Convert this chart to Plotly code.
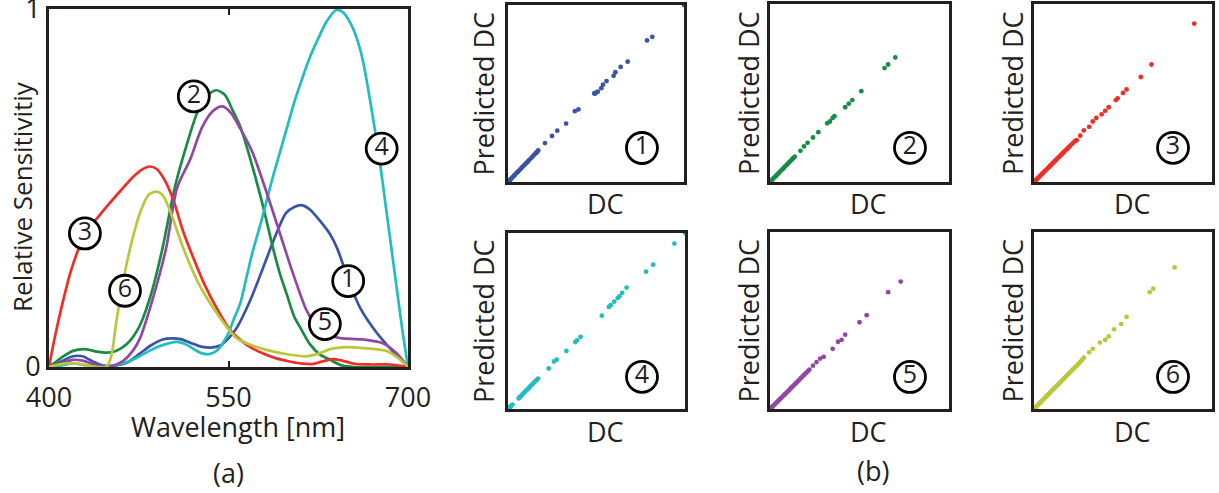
import plotly.graph_objects as go

W, H = 1219, 493
FONT = "Open Sans"
INK = "#231F20"

# ---------------- panel (a) data: relative sensitivity curves ----------------
wl_1 = [400, 410, 420, 428, 437, 445, 455, 465, 475, 485, 495, 503, 510, 518, 527, 535, 543, 550, 557,
        568, 579, 590, 598, 605, 611, 618, 626, 635, 641, 650, 660, 674, 687, 700]
s_1 = [0, 0.015, 0.03, 0.03, 0.015, 0.004, 0.004, 0.012, 0.035, 0.06, 0.077, 0.08, 0.078, 0.068, 0.057,
       0.054, 0.06, 0.08, 0.11, 0.185, 0.278, 0.373, 0.43, 0.447, 0.452, 0.44, 0.41, 0.37, 0.33, 0.245,
       0.165, 0.095, 0.045, 0]

wl_2 = [400, 410, 420, 430, 440, 448, 456, 465, 475, 485, 495, 505, 515, 525, 533, 540, 547, 553, 560,
        570, 579, 587, 593, 599, 605, 610, 618, 626, 635, 645, 655, 670, 685, 700]
s_2 = [0, 0.025, 0.045, 0.05, 0.043, 0.04, 0.045, 0.064, 0.11, 0.2, 0.334, 0.5, 0.62, 0.72, 0.76, 0.773,
       0.76, 0.72, 0.67, 0.56, 0.447, 0.335, 0.26, 0.2, 0.14, 0.11, 0.064, 0.036, 0.02, 0.004, 0, 0, 0, 0]

wl_3 = [400, 405, 410, 418, 426, 434, 442, 450, 460, 470, 478, 484, 490, 497, 504, 512, 520, 530, 540,
        551, 560, 570, 580, 590, 600, 610, 620, 628, 637, 645, 655, 670, 685, 700]
s_3 = [0, 0.085, 0.16, 0.265, 0.34, 0.39, 0.423, 0.455, 0.493, 0.53, 0.552, 0.56, 0.553, 0.52, 0.466, 0.38,
       0.31, 0.23, 0.165, 0.105, 0.075, 0.052, 0.036, 0.024, 0.016, 0.01, 0.008, 0.015, 0.022, 0.018,
       0.009, 0.007, 0.007, 0]

wl_4 = [400, 410, 420, 430, 440, 450, 460, 470, 480, 490, 500, 507, 515, 522, 528, 534, 540, 545, 550,
        554, 560, 565, 570, 576, 580, 587, 593, 599, 605, 611, 618, 626, 632, 640, 646, 652, 657, 662,
        666, 672, 677, 681, 685, 690, 695, 700]
s_4 = [0, 0.004, 0.01, 0.005, 0.002, 0.003, 0.008, 0.02, 0.038, 0.055, 0.066, 0.07, 0.062, 0.048, 0.038,
       0.036, 0.045, 0.065, 0.095, 0.13, 0.18, 0.25, 0.32, 0.39, 0.44, 0.53, 0.6, 0.67, 0.74, 0.8, 0.865,
       0.925, 0.965, 0.997, 0.99, 0.96, 0.92, 0.86, 0.79, 0.67, 0.56, 0.46, 0.36, 0.235, 0.11, 0]

wl_5 = [400, 410, 420, 428, 440, 448, 455, 462, 470, 476, 487, 498, 507, 518, 528, 537, 545, 552, 560,
        570, 582, 593, 604, 615, 622, 629, 637, 645, 662, 679, 690, 700]
s_5 = [0, 0.01, 0.02, 0.018, 0.005, 0.0, 0.005, 0.017, 0.045, 0.08, 0.194, 0.334, 0.5, 0.58, 0.67, 0.715,
       0.728, 0.71, 0.665, 0.6, 0.486, 0.373, 0.26, 0.16, 0.12, 0.095, 0.085, 0.08, 0.077, 0.066, 0.04, 0]

wl_6 = [400, 410, 418, 430, 440, 448, 452, 456, 462, 468, 476, 483, 490, 495, 501, 512, 524, 537, 549,
        557, 570, 585, 600, 615, 626, 635, 645, 662, 682, 693, 700]
s_6 = [0, 0.008, 0.011, 0.006, 0.0, 0.0, 0.03, 0.12, 0.24, 0.334, 0.43, 0.48, 0.49, 0.48, 0.438, 0.334,
       0.24, 0.166, 0.11, 0.08, 0.06, 0.045, 0.035, 0.03, 0.038, 0.05, 0.055, 0.053, 0.045, 0.022, 0]

colors = ["#3A53A4", "#1A8B45", "#EE2F27", "#22BDBF", "#9048A0", "#BCC63A"]
curve_wl = [wl_1, wl_2, wl_3, wl_4, wl_5, wl_6]
curve_s = [s_1, s_2, s_3, s_4, s_5, s_6]

# circled label positions on panel (a) (wavelength, sensitivity)
label_digits = ["1", "2", "3", "4", "5", "6"]
label_wl = [650, 521, 430, 678, 630.5, 463.5]
label_s = [0.24, 0.756, 0.373, 0.61, 0.12, 0.213]

# ---------------- panel (b) data: DC vs predicted DC ----------------
dc_1 = [0.0, 0.005, 0.01, 0.015, 0.02, 0.028, 0.035, 0.04, 0.048, 0.055, 0.06, 0.068, 0.075, 0.082, 0.09,
        0.097, 0.105, 0.112, 0.12, 0.13, 0.14, 0.15, 0.158, 0.165, 0.172, 0.21, 0.25, 0.28, 0.33, 0.38,
        0.40, 0.49, 0.495, 0.5, 0.51, 0.53, 0.54, 0.56, 0.6, 0.61, 0.64, 0.68, 0.79, 0.82, 1.0]
pdc_1 = [0.0, 0.005, 0.01, 0.016, 0.021, 0.029, 0.036, 0.042, 0.05, 0.057, 0.062, 0.07, 0.077, 0.085, 0.093,
         0.1, 0.108, 0.115, 0.124, 0.134, 0.144, 0.155, 0.163, 0.17, 0.178, 0.22, 0.26, 0.29, 0.33, 0.40,
         0.41, 0.50, 0.50, 0.505, 0.51, 0.53, 0.55, 0.57, 0.6, 0.62, 0.65, 0.68, 0.80, 0.82, 1.0]

dc_2 = [0.0, 0.006, 0.012, 0.018, 0.025, 0.032, 0.04, 0.047, 0.055, 0.062, 0.07, 0.078, 0.085, 0.093, 0.1,
        0.108, 0.115, 0.123, 0.13, 0.138, 0.17, 0.19, 0.21, 0.24, 0.27, 0.32, 0.335, 0.35, 0.36, 0.42,
        0.44, 0.46, 0.51, 0.64, 0.66, 0.70]
pdc_2 = [0.0, 0.006, 0.013, 0.019, 0.026, 0.033, 0.041, 0.048, 0.057, 0.064, 0.072, 0.08, 0.088, 0.096,
         0.103, 0.111, 0.119, 0.127, 0.134, 0.142, 0.175, 0.2, 0.22, 0.25, 0.28, 0.33, 0.34, 0.36, 0.37,
         0.42, 0.44, 0.46, 0.51, 0.64, 0.66, 0.70]

dc_3 = [0.0, 0.006, 0.012, 0.018, 0.024, 0.03, 0.037, 0.044, 0.05, 0.057, 0.064, 0.07, 0.077, 0.084, 0.09,
        0.097, 0.104, 0.11, 0.118, 0.125, 0.132, 0.14, 0.148, 0.155, 0.163, 0.17, 0.178, 0.186, 0.194,
        0.2, 0.21, 0.22, 0.23, 0.24, 0.26, 0.28, 0.31, 0.33, 0.35, 0.38, 0.40, 0.42, 0.46, 0.47, 0.50,
        0.52, 0.60, 0.66, 0.90]
pdc_3 = [0.0, 0.006, 0.012, 0.018, 0.024, 0.03, 0.037, 0.044, 0.05, 0.057, 0.064, 0.07, 0.077, 0.084,
         0.09, 0.097, 0.104, 0.11, 0.118, 0.125, 0.132, 0.14, 0.148, 0.155, 0.163, 0.17, 0.178, 0.186,
         0.194, 0.2, 0.21, 0.22, 0.23, 0.235, 0.26, 0.29, 0.31, 0.34, 0.36, 0.38, 0.40, 0.42, 0.46, 0.47,
         0.50, 0.52, 0.59, 0.66, 0.89]

dc_4 = [0.0, 0.004, 0.008, 0.012, 0.018, 0.025, 0.06, 0.065, 0.072, 0.08, 0.088, 0.095, 0.103, 0.11,
        0.118, 0.125, 0.133, 0.14, 0.148, 0.155, 0.163, 0.17, 0.23, 0.26, 0.275, 0.33, 0.38, 0.39, 0.41,
        0.53, 0.57, 0.58, 0.6, 0.62, 0.63, 0.645, 0.67, 0.78, 0.82, 0.94, 1.0]
pdc_4 = [0.0, 0.004, 0.008, 0.012, 0.018, 0.025, 0.06, 0.066, 0.073, 0.081, 0.089, 0.097, 0.105, 0.112,
         0.12, 0.128, 0.136, 0.143, 0.151, 0.158, 0.166, 0.173, 0.23, 0.27, 0.28, 0.33, 0.38, 0.39, 0.41,
         0.53, 0.58, 0.59, 0.61, 0.63, 0.64, 0.66, 0.69, 0.78, 0.82, 0.94, 1.0]

dc_5 = [0.0, 0.006, 0.012, 0.018, 0.025, 0.032, 0.04, 0.047, 0.055, 0.062, 0.07, 0.078, 0.085, 0.093, 0.1,
        0.108, 0.115, 0.123, 0.13, 0.138, 0.146, 0.155, 0.163, 0.172, 0.18, 0.19, 0.2, 0.21, 0.22, 0.24,
        0.26, 0.28, 0.3, 0.35, 0.38, 0.40, 0.42, 0.50, 0.54, 0.66, 0.73]
pdc_5 = [0.0, 0.006, 0.012, 0.018, 0.025, 0.032, 0.04, 0.047, 0.055, 0.062, 0.07, 0.078, 0.085, 0.093, 0.1,
         0.108, 0.116, 0.124, 0.131, 0.139, 0.147, 0.156, 0.165, 0.174, 0.182, 0.192, 0.202, 0.212, 0.222,
         0.245, 0.265, 0.285, 0.295, 0.34, 0.38, 0.39, 0.42, 0.49, 0.53, 0.66, 0.72]

dc_6 = [0.0, 0.006, 0.012, 0.018, 0.024, 0.03, 0.037, 0.044, 0.05, 0.057, 0.064, 0.07, 0.077, 0.084, 0.09,
        0.097, 0.104, 0.11, 0.118, 0.125, 0.132, 0.14, 0.148, 0.155, 0.163, 0.17, 0.178, 0.186, 0.194,
        0.2, 0.21, 0.22, 0.23, 0.24, 0.25, 0.26, 0.27, 0.28, 0.31, 0.33, 0.37, 0.40, 0.42, 0.45, 0.49,
        0.52, 0.65, 0.67, 0.79]
pdc_6 = [0.0, 0.006, 0.013, 0.019, 0.025, 0.031, 0.038, 0.045, 0.052, 0.059, 0.066, 0.072, 0.079, 0.086,
         0.092, 0.1, 0.107, 0.113, 0.121, 0.128, 0.135, 0.143, 0.151, 0.158, 0.166, 0.174, 0.182, 0.19,
         0.198, 0.205, 0.215, 0.225, 0.235, 0.245, 0.255, 0.266, 0.277, 0.29, 0.32, 0.34, 0.375, 0.39,
         0.41, 0.45, 0.48, 0.52, 0.66, 0.68, 0.80]

dc_sets = [dc_1, dc_2, dc_3, dc_4, dc_5, dc_6]
pdc_sets = [pdc_1, pdc_2, pdc_3, pdc_4, pdc_5, pdc_6]
panel_label_pos = [(0.761, 0.192), (0.782, 0.192), (0.781, 0.192),
                   (0.757, 0.183), (0.782, 0.181), (0.781, 0.181)]

# ---------------- layout geometry (pixels) ----------------
def px(x):
    return x / W

def py(y):
    return 1 - y / H

panels = [  # x0, x1, ytop, ybottom
    (508, 684, 5, 182), (770, 949, 4, 182), (1034, 1212, 4, 182),
    (508, 685, 233, 409), (770, 949, 232, 409), (1034, 1212, 232, 409),
]

fig = go.Figure()

# panel (a) curves
for wl, s, c in zip(curve_wl, curve_s, colors):
    fig.add_trace(go.Scatter(x=wl, y=s, mode="lines", line=dict(color=c, width=2.7, shape="spline",
                                                                   smoothing=0.8),
                             xaxis="x", yaxis="y", showlegend=False, hoverinfo="skip"))

fig.add_trace(go.Scatter(x=label_wl, y=label_s, mode="markers+text", text=label_digits,
                         textposition="middle center",
                         textfont=dict(family=FONT, size=25, color=INK),
                         marker=dict(symbol="circle", size=31, color="white",
                                     line=dict(color="black", width=2.8)),
                         xaxis="x", yaxis="y", showlegend=False, cliponaxis=False, hoverinfo="skip"))

# panel (b) scatter
for i in range(6):
    ax = str(i + 2)
    fig.add_trace(go.Scatter(x=dc_sets[i], y=pdc_sets[i], mode="markers",
                             marker=dict(color=colors[i], size=4.8, line=dict(width=0)),
                             xaxis="x" + ax, yaxis="y" + ax, showlegend=False, hoverinfo="skip"))
    lx, ly = panel_label_pos[i]
    fig.add_trace(go.Scatter(x=[lx], y=[ly], mode="markers+text", text=[label_digits[i]],
                             textposition="middle center",
                             textfont=dict(family=FONT, size=25, color=INK),
                             marker=dict(symbol="circle", size=31, color="white",
                                         line=dict(color="black", width=2.8)),
                             xaxis="x" + ax, yaxis="y" + ax, showlegend=False, cliponaxis=False,
                             hoverinfo="skip"))

layout = dict(
    width=W, height=H, margin=dict(l=0, r=0, t=0, b=0, autoexpand=False),
    paper_bgcolor="white", plot_bgcolor="white",
    font=dict(family=FONT, size=27, color=INK),
    xaxis=dict(domain=[px(49), px(408)], range=[400, 700], tickvals=[400, 550, 700],
               ticktext=["400", "550", "700"], ticks="inside", ticklen=6, tickwidth=2,
               tickcolor=INK, showline=True, linewidth=3, linecolor=INK, mirror="ticks",
               showgrid=False, zeroline=False, tickfont=dict(size=27), anchor="y",
               automargin=False, ticklabeloverflow="allow", ticklabelstandoff=5),
    yaxis=dict(domain=[py(367), py(9)], range=[0, 1], tickvals=[0, 1], ticktext=["0", "1"],
               ticks="", showline=True, linewidth=3, linecolor=INK, mirror=True,
               showgrid=False, zeroline=False, tickfont=dict(size=27), anchor="x",
               automargin=False, ticklabeloverflow="allow", ticklabelstandoff=0),
)
for i, (x0, x1, yt, yb) in enumerate(panels):
    ax = str(i + 2)
    layout["xaxis" + ax] = dict(domain=[px(x0), px(x1)], range=[0, 1], showticklabels=False,
                                ticks="", showline=True, linewidth=3, linecolor=INK, mirror=True,
                                showgrid=False, zeroline=False, anchor="y" + ax, automargin=False)
    layout["yaxis" + ax] = dict(domain=[py(yb), py(yt)], range=[0, 1], showticklabels=False,
                                ticks="", showline=True, linewidth=3, linecolor=INK, mirror=True,
                                showgrid=False, zeroline=False, anchor="x" + ax, automargin=False)

ann = []

def text(x, y, t, angle=0, size=27):
    ann.append(dict(x=px(x), y=py(y), xref="paper", yref="paper", text=t, showarrow=False,
                    textangle=angle, xanchor="center", yanchor="middle",
                    font=dict(family=FONT, size=size, color=INK)))

text(22, 197, "Relative Sensitivitiy", angle=-90, size=26)
text(238, 426, "Wavelength [nm]")
text(228, 472, "(a)")
text(873, 470, "(b)")
for (x0, x1, yt, yb), lxc in zip(panels, [483, 748, 1012, 483, 748, 1012]):
    text(lxc, (yt + yb) / 2, "Predicted DC", angle=-90, size=27)
    text((x0 + x1) / 2 + 9, yb + 22, "DC", size=27)

layout["annotations"] = ann
fig.update_layout(**layout)
fig.write_html("out.html")
